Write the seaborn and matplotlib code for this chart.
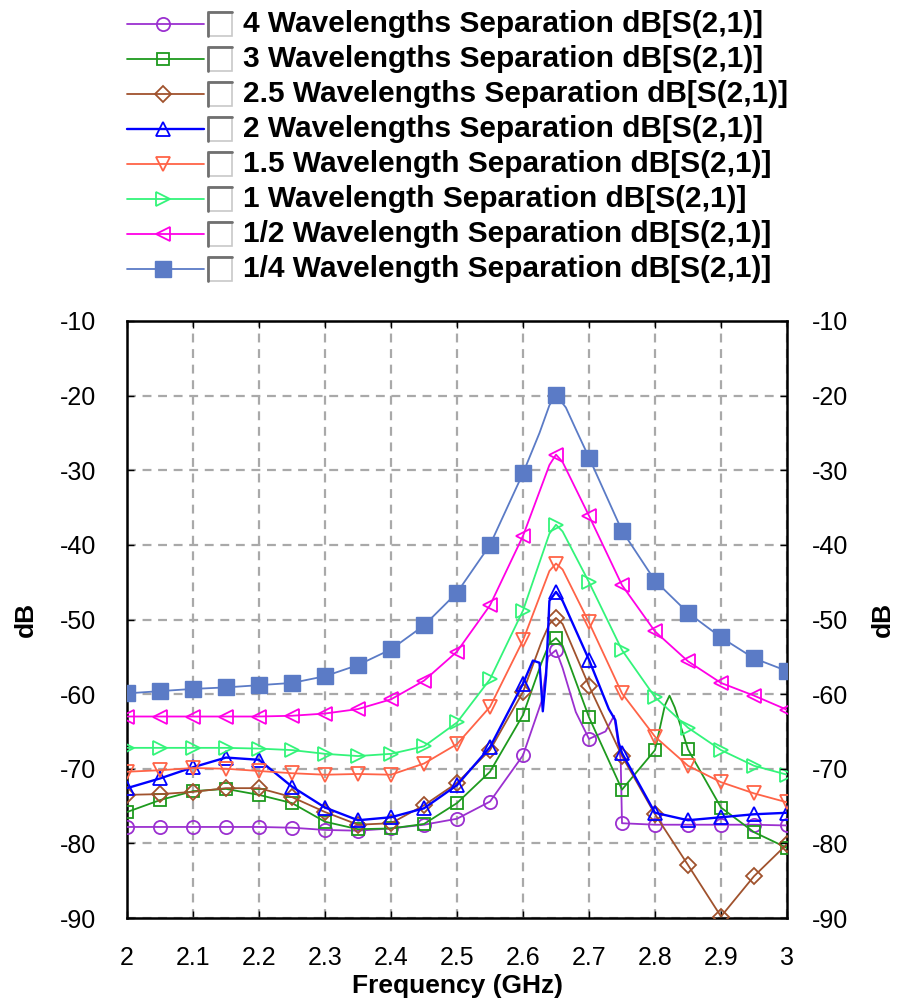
import numpy as np
import pandas as pd
import matplotlib
matplotlib.use("Agg")
import matplotlib.pyplot as plt
import seaborn as sns
from matplotlib.lines import Line2D
from matplotlib.patches import Rectangle

sns.set_theme(style="white")
plt.rcParams['font.family'] = ['Liberation Sans', 'DejaVu Sans']
plt.rcParams['axes.unicode_minus'] = False
plt.rcParams['text.color'] = 'black'
plt.rcParams['axes.labelcolor'] = 'black'
plt.rcParams['xtick.color'] = 'black'
plt.rcParams['ytick.color'] = 'black'

# ---------------- data ----------------
marker_freqs = [2.00, 2.05, 2.10, 2.15, 2.20, 2.25, 2.30, 2.35, 2.40, 2.45, 2.50,
                2.55, 2.60, 2.65, 2.70, 2.75, 2.80, 2.85, 2.90, 2.95, 3.00]

labels = ["4 Wavelengths Separation dB[S(2,1)]",
          "3 Wavelengths Separation dB[S(2,1)]",
          "2.5 Wavelengths Separation dB[S(2,1)]",
          "2 Wavelengths Separation dB[S(2,1)]",
          "1.5 Wavelength Separation dB[S(2,1)]",
          "1 Wavelength Separation dB[S(2,1)]",
          "1/2 Wavelength Separation dB[S(2,1)]",
          "1/4 Wavelength Separation dB[S(2,1)]"]

# values at the marker frequencies
db_4wl = [-77.8, -77.8, -77.8, -77.8, -77.8, -77.9, -78.2, -78.3, -78.0, -77.5, -76.7,
          -74.4, -68.2, -54.1, -66.0, -77.3, -77.5, -77.5, -77.5, -77.5, -77.6]
db_3wl = [-75.8, -74.2, -73.0, -72.7, -73.5, -74.6, -77.1, -78.1, -78.0, -77.4, -74.6,
          -70.4, -62.8, -52.5, -63.1, -72.8, -67.5, -67.4, -75.2, -78.5, -80.6]
db_25wl = [-73.5, -73.4, -73.1, -72.6, -72.6, -73.8, -75.8, -77.5, -77.3, -74.9, -71.9,
           -67.5, -59.7, -49.8, -58.9, -68.3, -76.1, -82.9, -89.8, -84.4, -80.1]
db_2wl = [-72.6, -71.3, -69.8, -68.5, -68.8, -72.4, -75.2, -76.9, -76.5, -75.3, -72.2,
          -67.1, -58.6, -46.3, -55.4, -67.9, -75.9, -76.9, -76.5, -76.1, -75.9]
db_15wl = [-70.4, -70.2, -69.9, -70.0, -70.3, -70.6, -70.8, -70.7, -70.8, -69.3, -66.7,
           -61.7, -52.8, -42.5, -50.4, -59.9, -65.7, -69.6, -71.8, -73.3, -74.5]
db_1wl = [-67.2, -67.2, -67.2, -67.2, -67.3, -67.5, -68.0, -68.3, -68.0, -67.0, -63.8,
          -58.0, -48.8, -37.3, -45.0, -54.1, -60.4, -64.5, -67.5, -69.6, -70.8]
db_half = [-63.0, -63.0, -63.0, -63.0, -63.0, -62.9, -62.6, -62.0, -60.7, -58.2, -54.3,
           -48.1, -38.8, -27.9, -36.1, -45.4, -51.6, -55.6, -58.5, -60.2, -62.1]
db_quarter = [-59.9, -59.6, -59.3, -59.1, -58.8, -58.5, -57.6, -56.1, -54.0, -50.8, -46.4,
              -40.0, -30.4, -19.9, -28.3, -38.1, -44.8, -49.1, -52.4, -55.2, -56.9]

# extra simulated sweep points between markers
ext_4wl_f = [2.628, 2.638, 2.66, 2.68, 2.725, 2.738, 2.748]
ext_4wl_db = [-61.0, -55.0, -56.5, -62.4, -65.0, -62.9, -68.8]
ext_3wl_f = [2.628, 2.64, 2.66, 2.815, 2.822, 2.83]
ext_3wl_db = [-55.8, -53.2, -53.5, -61.5, -60.2, -61.8]
ext_25wl_f = [2.628, 2.64, 2.66]
ext_25wl_db = [-53.0, -50.6, -50.6]
ext_2wl_f = [2.615, 2.625, 2.63, 2.635, 2.64, 2.66, 2.73, 2.74, 2.745]
ext_2wl_db = [-55.5, -55.8, -62.3, -57.5, -47.5, -47.5, -62.0, -63.5, -66.5]
ext_15wl_f = [2.64, 2.66]
ext_15wl_db = [-43.5, -43.3]
ext_1wl_f = [2.64, 2.66]
ext_1wl_db = [-38.5, -38.2]
ext_half_f = [2.64, 2.66]
ext_half_db = [-29.3, -28.9]
ext_quarter_f = [2.625, 2.64, 2.665, 2.68]
ext_quarter_db = [-25.0, -21.3, -21.6, -24.5]

colors = ["#9B30D0", "#1E9A1E", "#A0522D", "#0000FF", "#FF6347", "#33F47A", "#FF00E6", "#5B7BC6"]
mstyles = ["o", "s", "D", "^", "v", ">", "<", "s"]

series = [(db_4wl, ext_4wl_f, ext_4wl_db), (db_3wl, ext_3wl_f, ext_3wl_db),
          (db_25wl, ext_25wl_f, ext_25wl_db), (db_2wl, ext_2wl_f, ext_2wl_db),
          (db_15wl, ext_15wl_f, ext_15wl_db), (db_1wl, ext_1wl_f, ext_1wl_db),
          (db_half, ext_half_f, ext_half_db), (db_quarter, ext_quarter_f, ext_quarter_db)]

W, H = 898, 1005
fig = plt.figure(figsize=(W / 100, H / 100), dpi=100)
L, R, T, B = 127, 787, 321, 918
ax = fig.add_axes([L / W, 1 - B / H, (R - L) / W, (B - T) / H])


def style_for(i):
    filled = (i == 7)
    ms = 12.0 if filled else 9.5
    if mstyles[i] == "D":
        ms = 8.0
    if mstyles[i] == "s" and not filled:
        ms = 8.5
    kw = dict(marker=mstyles[i], markersize=ms, markeredgecolor=colors[i],
              markerfacecolor=colors[i] if filled else "none",
              markeredgewidth=1.0 if filled else 1.3,
              linewidth=1.7 if i == 3 else 1.3, color=colors[i])
    return kw


for i, (base, ef, ed) in enumerate(series):
    df = pd.DataFrame({"f": list(marker_freqs) + list(ef),
                       "db": list(base) + list(ed),
                       "mk": [True] * len(marker_freqs) + [False] * len(ef)})
    df = df.sort_values("f").reset_index(drop=True)
    sns.lineplot(data=df, x="f", y="db", ax=ax, estimator=None, sort=False,
                 markevery=list(df["mk"]), zorder=3 + i, **style_for(i))

ax.set_xlim(2, 3)
ax.set_ylim(-90, -10)
xt = [2.0, 2.1, 2.2, 2.3, 2.4, 2.5, 2.6, 2.7, 2.8, 2.9, 3.0]
xtl = ["2", "2.1", "2.2", "2.3", "2.4", "2.5", "2.6", "2.7", "2.8", "2.9", "3"]
yt = [-90, -80, -70, -60, -50, -40, -30, -20, -10]
ax.set_xticks(xt)
ax.set_xticklabels(xtl)
ax.set_yticks(yt)
ax.set_yticklabels([str(v) for v in yt])
ax.grid(True, color="#A9A9A9", linestyle=(0, (4, 3)), linewidth=1.6)
for s in ax.spines.values():
    s.set_color("black")
    s.set_linewidth(1.8)
    s.set_visible(True)
ax.tick_params(axis="both", direction="in", length=5, width=1, colors="black",
               labelsize=18, labelcolor="black", top=True, bottom=True, left=True, right=False)
ax.tick_params(axis="y", pad=22)
ax.tick_params(axis="x", pad=20)
ax.set_xlabel("Frequency (GHz)", fontsize=19, fontweight="bold", labelpad=3, color="black")
ax.set_ylabel("dB", fontsize=19, fontweight="bold", labelpad=16, color="black")

ax2 = ax.twinx()
ax2.set_ylim(-90, -10)
ax2.set_yticks(yt)
ax2.set_yticklabels([str(v) for v in yt])
ax2.tick_params(axis="y", direction="in", length=5, width=1, colors="black",
                labelsize=18, labelcolor="black", pad=18)
ax2.set_ylabel("dB", fontsize=19, fontweight="bold", rotation=90, labelpad=16, color="black")
ax2.grid(False)
for s in ax2.spines.values():
    s.set_visible(False)

# ---------------- legend (drawn by hand, with check boxes) ----------------
def fx(x):
    return x / W


def fy(y):
    return 1 - y / H


row0, dy = 24, 35.0
for i in range(len(labels)):
    yc = row0 + dy * i
    kw = style_for(i)
    fig.add_artist(Line2D([fx(127), fx(204)], [fy(yc), fy(yc)], transform=fig.transFigure,
                          color=colors[i], linewidth=kw["linewidth"]))
    fig.add_artist(Line2D([fx(163)], [fy(yc)], transform=fig.transFigure, linestyle="none",
                          marker=kw["marker"], markersize=kw["markersize"],
                          markeredgecolor=colors[i], markerfacecolor=kw["markerfacecolor"],
                          markeredgewidth=kw["markeredgewidth"]))
    bx, by, bs = 208, yc - 12, 24
    fig.add_artist(Rectangle((fx(bx), fy(by + bs)), bs / W, bs / H, transform=fig.transFigure,
                             facecolor="white", edgecolor="#C8C8C8", linewidth=1.2))
    fig.add_artist(Line2D([fx(bx), fx(bx), fx(bx + bs)], [fy(by + bs), fy(by), fy(by)],
                          transform=fig.transFigure, color="#707070", linewidth=2.0))
    fig.text(fx(243), fy(yc), labels[i], fontsize=21.5, fontweight="bold", color="black",
             ha="left", va="center")

fig.savefig("out.png", dpi=100, facecolor="white")
